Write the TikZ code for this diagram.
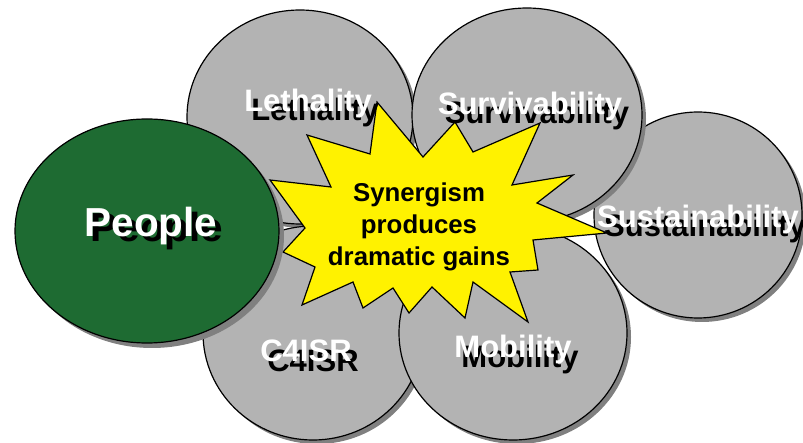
\documentclass[tikz,border=0pt]{standalone}
\usepackage{fontspec}
\setmainfont{Liberation Sans}
\definecolor{pillargray}{RGB}{179,179,179}
\definecolor{shadegray}{RGB}{128,128,128}
\definecolor{peoplegreen}{RGB}{30,107,50}
\newcommand\pillar[4]{%
  \fill[shadegray] ([shift={(4,4)}]#1) ellipse [x radius=#2, y radius=#3];
  \draw[pillar] (#1) ellipse [x radius=#2, y radius=#3];
  \coordinate (#4) at (#1);}
\newcommand\pillarlabel[3]{%
  \node[lbl, text=black] at ([shift={(7,9)}]#2) {#3};
  \node[lbl, text=white] (#1) at (#2) {#3};}
\begin{document}
\begin{tikzpicture}[x=1pt, y=-1pt,
  pillar/.style={fill=pillargray, draw=black, line width=1.2pt},
  burst/.style={fill=yellow, draw=black, line width=1.2pt, line join=miter},
  lbl/.style={anchor=base, inner sep=0pt, font=\bfseries\fontsize{31}{31}\selectfont}]
\useasboundingbox (0,0) rectangle (803,443);
\pillar{698,215}{104}{103}{sust}
\pillar{300,117}{113}{107}{leth}
\pillar{527,115}{115}{107}{surv}
\pillar{313,333}{110}{107}{cfour}
\pillar{513,333}{114}{107}{mob}
\draw[burst] (377,102) -- (423,157) -- (455,122) -- (473,152) -- (540,123)
  -- (512,185) -- (573,175) -- (537,203) -- (607,233) -- (533,240)
  -- (538,270) -- (510,272) -- (528,322) -- (473,282) -- (465,318)
  -- (432,287) -- (409,313) -- (393,288) -- (363,308) -- (353,282)
  -- (302,305) -- (315,267) -- (283,252) -- (305,228) -- (270,180)
  -- (331,187) -- (307,135) -- (370,154) -- cycle;
\node[align=center, inner sep=0pt, font=\bfseries\fontsize{25.8}{32}\selectfont]
  (gains) at (419,227) {Synergism\\produces\\dramatic gains};
\fill[shadegray] (152,236) ellipse [x radius=132, y radius=112];
\draw[fill=peoplegreen, line width=1.2pt] (147,231) ellipse [x radius=132, y radius=112];
\node[lbl, text=black, font=\bfseries\fontsize{40.5}{40.5}\selectfont] at (157,242) {People};
\node[lbl, text=white, font=\bfseries\fontsize{40.5}{40.5}\selectfont] (people) at (151,237) {People};
\pillarlabel{lethality}{308,112}{Lethality}
\pillarlabel{survivability}{530,115}{Survivability}
\pillarlabel{sustainability}{698,228}{Sustainability}
\pillarlabel{cfourisr}{306,362}{C4ISR}
\pillarlabel{mobility}{513,358}{Mobility}
\end{tikzpicture}
\end{document}
